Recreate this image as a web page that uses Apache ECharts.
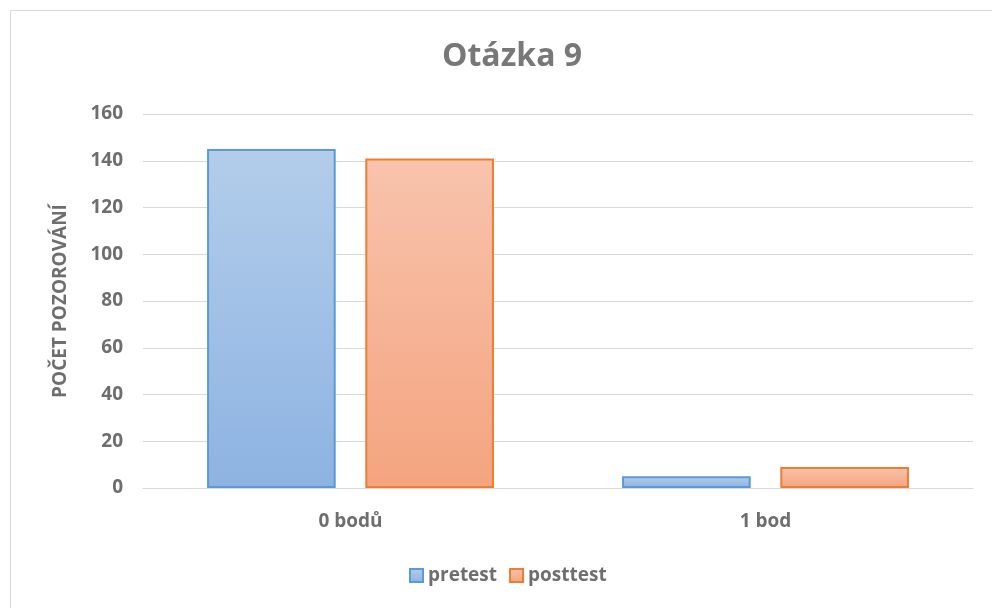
<!DOCTYPE html>
<html>
<head>
<meta charset="utf-8">
<script src="https://cdn.jsdelivr.net/npm/echarts@6/dist/echarts.min.js"></script>
<style>
  html, body { margin: 0; padding: 0; background: #fff; }
  #frame { position: absolute; left: 10px; top: 10px; width: 990px; height: 606px; border: 1px solid #d9d9d9; box-sizing: border-box; }
  #main { position: absolute; left: 0; top: 0; width: 992px; height: 608px; }
</style>
</head>
<body>
<div id="frame"></div>
<div id="main"></div>
<script>
// data
var categories = ['0 bodů', '1 bod'];
var pretest = [145, 5];
var posttest = [141, 9];
var yTicks = [0, 20, 40, 60, 80, 100, 120, 140, 160];

var txt = '#6e6e6e';
var font = '"Open Sans", sans-serif';

function grad(top, bottom) {
  return new echarts.graphic.LinearGradient(0, 0, 0, 1, [
    { offset: 0, color: top },
    { offset: 1, color: bottom }
  ]);
}

var myChart = echarts.init(document.getElementById('main'));
myChart.setOption({
  animation: false,
  textStyle: { fontFamily: font },
  title: {
    text: 'Otázka 9',
    left: 437,
    top: 36,
    textStyle: { color: '#787878', fontSize: 32, fontWeight: 'bold', fontFamily: font }
  },
  legend: {
    bottom: 18,
    left: 404,
    icon: 'rect',
    itemWidth: 13,
    itemHeight: 13,
    itemGap: 12,
    textStyle: { color: txt, fontSize: 19, fontWeight: 'bold', fontFamily: font },
    data: ['pretest', 'posttest']
  },
  grid: { left: 143, right: 19, top: 114, bottom: 120 },
  xAxis: {
    type: 'category',
    data: categories,
    axisLine: { lineStyle: { color: '#d9d9d9', width: 1 } },
    axisTick: { show: false },
    axisLabel: { color: txt, fontSize: 19, fontWeight: 'bold', margin: 24 }
  },
  yAxis: {
    type: 'value',
    min: yTicks[0],
    max: yTicks[yTicks.length - 1],
    interval: 20,
    name: 'POČET POZOROVÁNÍ',
    nameLocation: 'middle',
    nameGap: 73,
    nameTextStyle: { color: txt, fontSize: 19, fontWeight: 'bold' },
    axisLine: { show: false },
    axisTick: { show: false },
    axisLabel: { color: txt, fontSize: 19, fontWeight: 'bold', margin: 20 },
    splitLine: { lineStyle: { color: '#d9d9d9', width: 1 } }
  },
  series: [
    {
      name: 'pretest',
      type: 'bar',
      data: pretest,
      barWidth: '31%',
      barGap: '23%',
      itemStyle: { color: grad('#b3cdea', '#8db3e2'), borderColor: '#5b9bd5', borderWidth: 2 }
    },
    {
      name: 'posttest',
      type: 'bar',
      data: posttest,
      barWidth: '31%',
      itemStyle: { color: grad('#f8c3ad', '#f4a47f'), borderColor: '#ed7d31', borderWidth: 2 }
    }
  ]
});
</script>
</body>
</html>
